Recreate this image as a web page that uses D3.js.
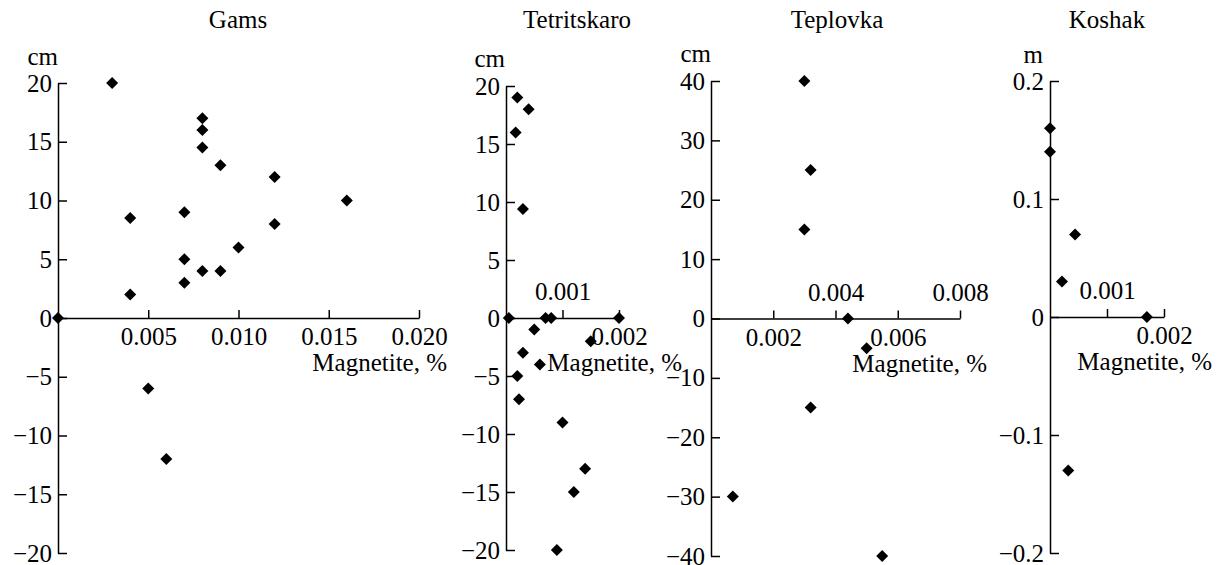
<!DOCTYPE html>
<html>
<head>
<meta charset="utf-8">
<script src="https://cdn.jsdelivr.net/npm/d3@7"></script>
<style>
  body { margin: 0; background: #fff; }
  svg text { font-family: "Liberation Serif", Tinos, "DejaVu Serif", serif; fill: #000; }
</style>
</head>
<body>
<svg id="chart" width="1222" height="565"></svg>
<script>
// Gams
const gamsX = [0.003, 0.008, 0.008, 0.008, 0.009, 0.012, 0.016, 0.004, 0.007, 0.012, 0.010, 0.007, 0.008, 0.009, 0.007, 0.004, 0, 0.005, 0.006];
const gamsY = [20, 17, 16, 14.5, 13, 12, 10, 8.5, 9, 8, 6, 5, 4, 4, 3, 2, 0, -6, -12];
const gamsXTicks = [0.005, 0.010, 0.015, 0.020];
const gamsXLabels = ["0.005", "0.010", "0.015", "0.020"];
const gamsYTicks = [20, 15, 10, 5, 0, -5, -10, -15, -20];
const gamsYLabels = ["20", "15", "10", "5", "0", "\u22125", "\u221210", "\u221215", "\u221220"];

// Tetritskaro
const tetX = [0.0002, 0.0004, 0.00017, 0.0003, 0.00005, 0.0007, 0.0008, 0.002, 0.0005, 0.0015, 0.0003, 0.0006, 0.0002, 0.00023, 0.001, 0.0014, 0.0012, 0.0009];
const tetY = [19, 18, 16, 9.4, 0, 0, 0, 0, -1, -2, -3, -4, -5, -7, -9, -13, -15, -20];
const tetXTicks = [0.001, 0.002];
const tetXLabels = ["0.001", "0.002"];
const tetYTicks = [20, 15, 10, 5, 0, -5, -10, -15, -20];
const tetYLabels = ["20", "15", "10", "5", "0", "\u22125", "\u221210", "\u221215", "\u221220"];

// Teplovka
const tepX = [0.003, 0.0032, 0.003, 0.0044, 0.005, 0.0032, 0.0007, 0.0055];
const tepY = [40, 25, 15, 0, -5, -15, -30, -40];
const tepXTicks = [0.002, 0.004, 0.006, 0.008];
const tepXLabels = ["0.002", "0.004", "0.006", "0.008"];
const tepYTicks = [40, 30, 20, 10, 0, -10, -20, -30, -40];
const tepYLabels = ["40", "30", "20", "10", "0", "\u221210", "\u221220", "\u221230", "\u221240"];

// Koshak
const koshX = [0, 0, 0.00044, 0.00021, 0.0017, 0.00032];
const koshY = [0.16, 0.14, 0.07, 0.03, 0, -0.13];
const koshXTicks = [0.001, 0.002];
const koshXLabels = ["0.001", "0.002"];
const koshYTicks = [0.2, 0.1, 0, -0.1, -0.2];
const koshYLabels = ["0.2", "0.1", "0", "\u22120.1", "\u22120.2"];

const panels = [
  { title: "Gams", unit: "cm", xs: gamsX, ys: gamsY, xTicks: gamsXTicks, xLabels: gamsXLabels,
    yTicks: gamsYTicks, yLabels: gamsYLabels, xDomain: [0, 0.02], yDomain: [-20, 20],
    xRange: [58, 419], yRange: [553, 83], side: ["b", "b", "b", "b"],
    titleX: 238, unitX: 58, unitY: 65, magX: 447 },
  { title: "Tetritskaro", unit: "cm", xs: tetX, ys: tetY, xTicks: tetXTicks, xLabels: tetXLabels,
    yTicks: tetYTicks, yLabels: tetYLabels, xDomain: [0, 0.002], yDomain: [-20, 20],
    xRange: [506, 619], yRange: [550, 86], side: ["a", "b"],
    titleX: 577, unitX: 505, unitY: 67, magX: 682 },
  { title: "Teplovka", unit: "cm", xs: tepX, ys: tepY, xTicks: tepXTicks, xLabels: tepXLabels,
    yTicks: tepYTicks, yLabels: tepYLabels, xDomain: [0, 0.008], yDomain: [-40, 40],
    xRange: [711, 960], yRange: [556, 81], side: ["b", "a", "b", "a"],
    titleX: 837, unitX: 711, unitY: 62, magX: 987 },
  { title: "Koshak", unit: "m", xs: koshX, ys: koshY, xTicks: koshXTicks, xLabels: koshXLabels,
    yTicks: koshYTicks, yLabels: koshYLabels, xDomain: [0, 0.002], yDomain: [-0.2, 0.2],
    xRange: [1050, 1164], yRange: [553, 81], side: ["a", "b"],
    titleX: 1107, unitX: 1043, unitY: 63, magX: 1212 }
];

const svg = d3.select("#chart");
const fontSize = 25;
const serif = "'Liberation Serif', Tinos, 'DejaVu Serif', serif";
const diamond = d3.symbol().type(d3.symbolSquare).size(72);

panels.forEach(p => {
  const x = d3.scaleLinear().domain(p.xDomain).range(p.xRange);
  const y = d3.scaleLinear().domain(p.yDomain).range(p.yRange);
  const g = svg.append("g").attr("font-family", serif);

  // y axis, ticks pointing right
  const ya = g.append("g")
      .attr("transform", `translate(${x(0)},0)`)
      .call(d3.axisLeft(y)
        .tickValues(p.yTicks)
        .tickFormat((d, i) => p.yLabels[i])
        .tickSizeInner(-9)
        .tickSizeOuter(0)
        .tickPadding(6));

  // x axis through zero, ticks pointing up
  const xa = g.append("g")
      .attr("transform", `translate(0,${y(0)})`)
      .call(d3.axisBottom(x)
        .tickValues(p.xTicks)
        .tickFormat((d, i) => p.xLabels[i])
        .tickSizeInner(-8)
        .tickSizeOuter(0));
  xa.selectAll(".tick text")
      .attr("dy", null)
      .attr("y", (d, i) => p.side[i] === "a" ? -18 : 27);

  [ya, xa].forEach(a => {
    a.attr("font-family", serif).attr("font-size", fontSize);
    a.selectAll("path, line").attr("stroke", "#000").attr("stroke-width", 1.5);
  });

  g.append("text")
      .attr("x", p.titleX).attr("y", 28)
      .attr("text-anchor", "middle")
      .attr("font-size", fontSize)
      .text(p.title);

  g.append("text")
      .attr("x", p.unitX).attr("y", p.unitY)
      .attr("text-anchor", "end")
      .attr("font-size", fontSize)
      .text(p.unit);

  g.append("text")
      .attr("x", p.magX).attr("y", y(0) + 53)
      .attr("text-anchor", "end")
      .attr("font-size", fontSize)
      .text("Magnetite, %");

  g.selectAll(".pt")
      .data(p.xs.map((v, i) => [v, p.ys[i]]))
      .enter()
      .append("path")
      .attr("d", diamond)
      .attr("fill", "#000")
      .attr("transform", d => `translate(${x(d[0])},${y(d[1])}) rotate(45)`);
});
</script>
</body>
</html>
